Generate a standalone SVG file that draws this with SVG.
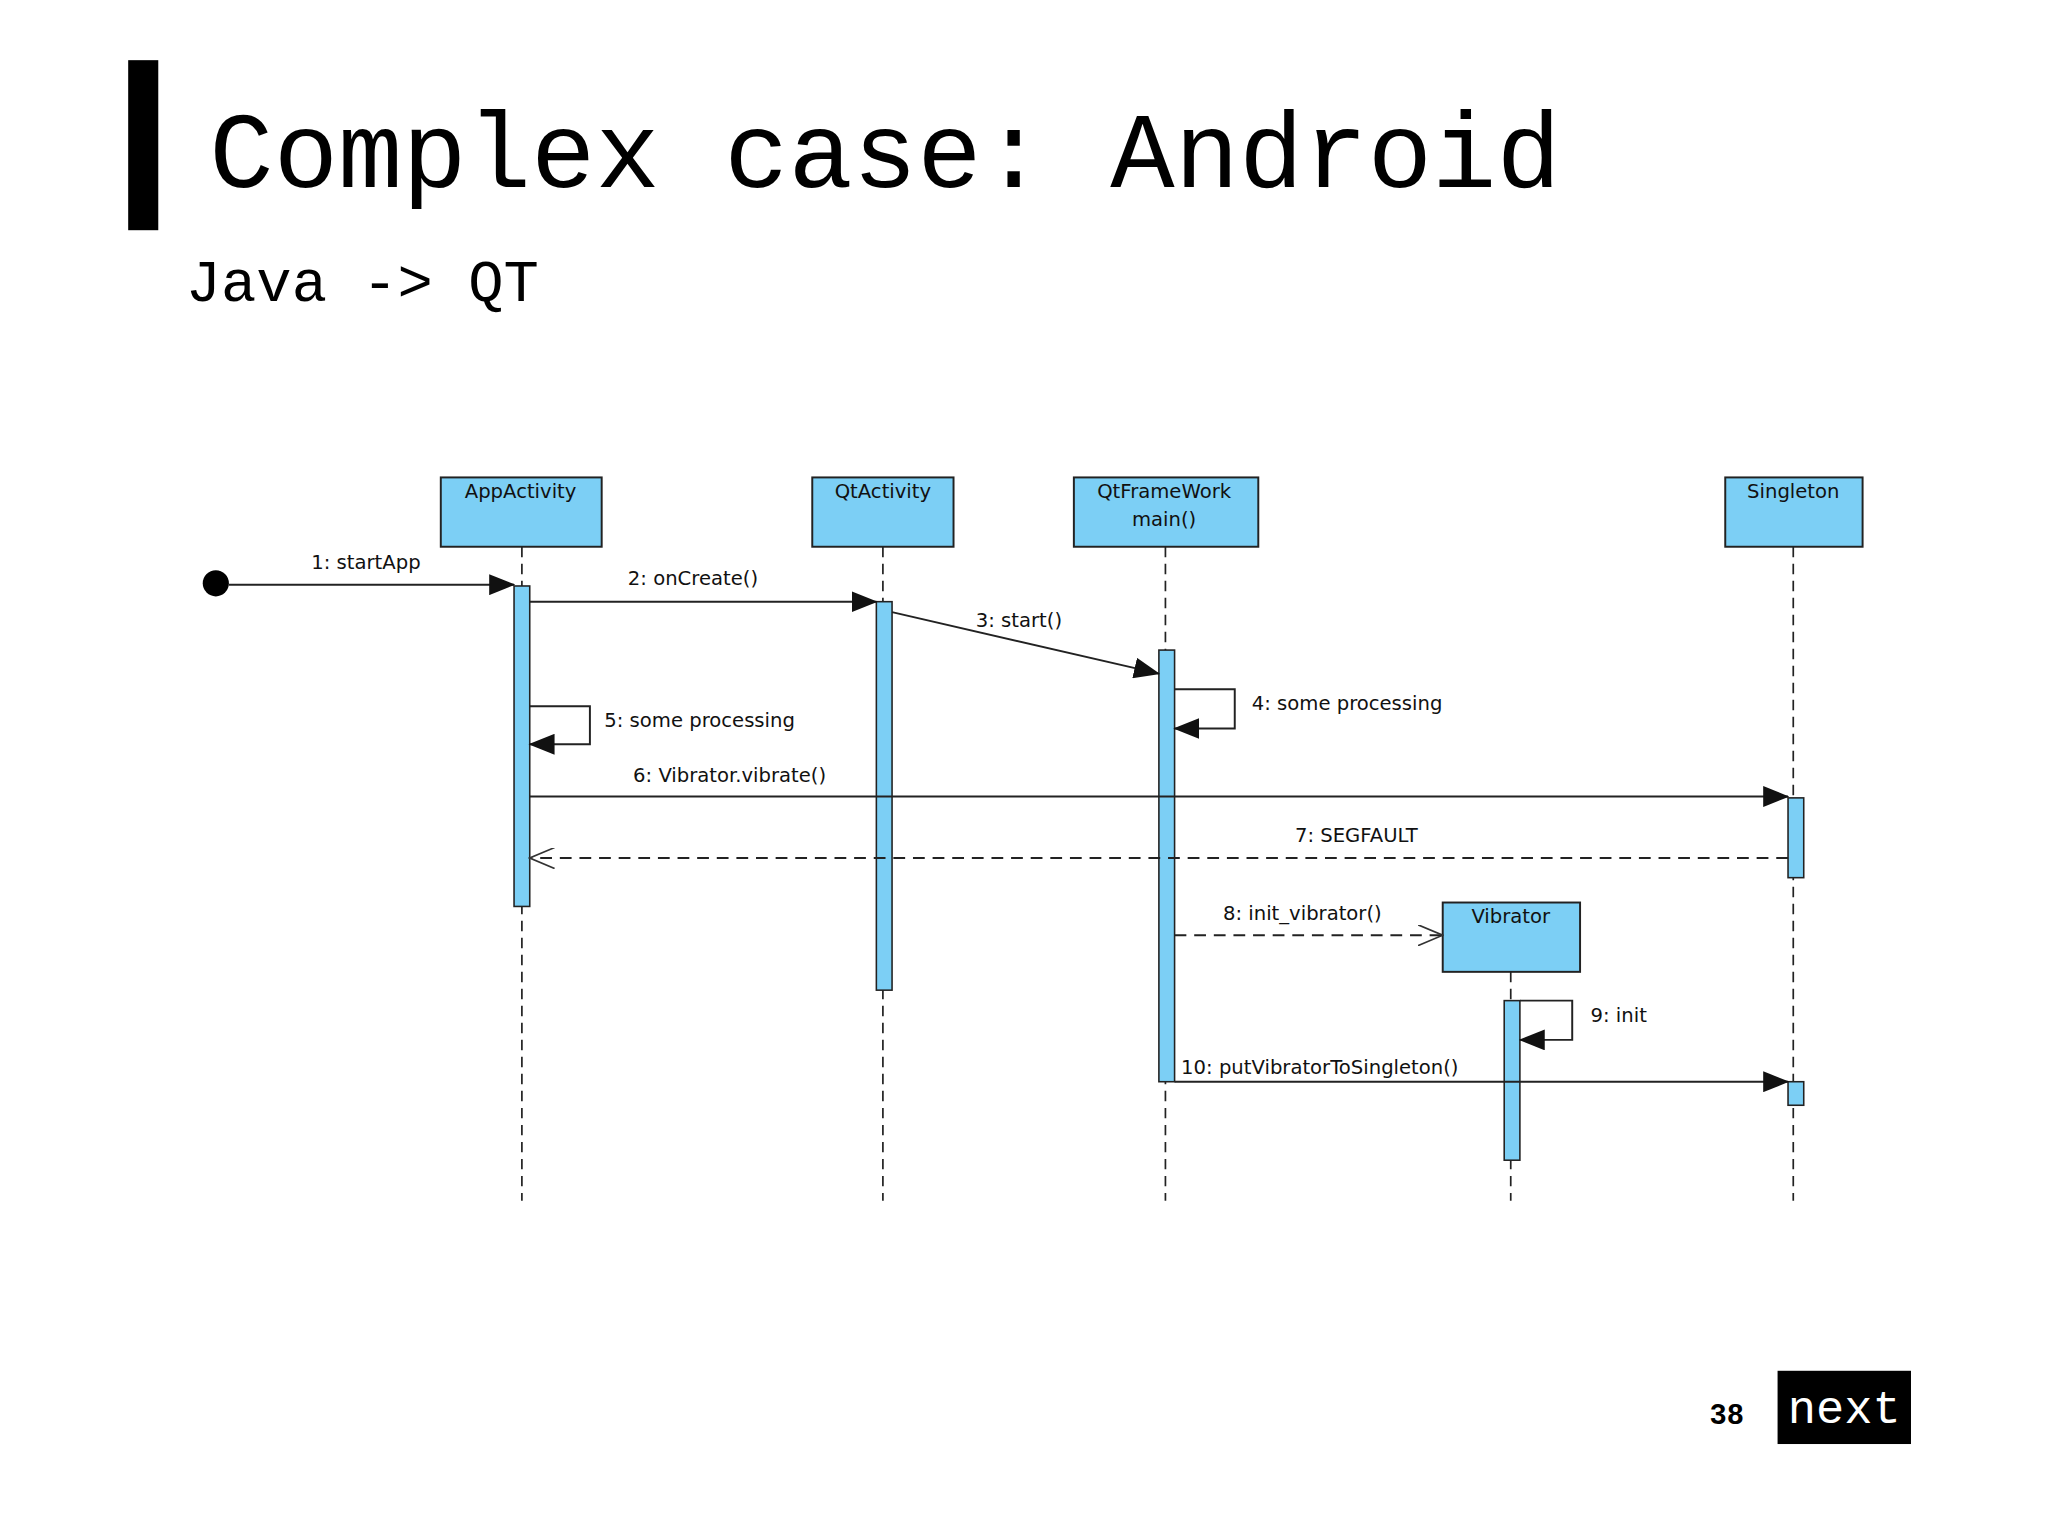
<svg xmlns="http://www.w3.org/2000/svg" width="2048" height="1536" viewBox="0 0 2048 1536">
<style>
.box{fill:#7ccff5;stroke:#222;stroke-width:1.5}
.act{fill:#7ccff5;stroke:#222;stroke-width:1.2}
.life{stroke:#222;stroke-width:1.3;stroke-dasharray:8,5;fill:none}
.msg{stroke:#222;stroke-width:1.5;fill:none}
.ret{stroke:#222;stroke-width:1.5;fill:none;stroke-dasharray:9,6}
.lbl{font-family:"DejaVu Sans",sans-serif;font-size:15px;fill:#111}
.nm{font-family:"DejaVu Sans",sans-serif;font-size:15px;fill:#111;text-anchor:middle}
</style>
<defs>
<marker id="fa" markerWidth="20" markerHeight="16" refX="19" refY="8" orient="auto" markerUnits="userSpaceOnUse"><path d="M0,0 L20,8 L0,16 Z" fill="#111"/></marker>
<marker id="oa" markerWidth="20" markerHeight="16" refX="19" refY="8" orient="auto" markerUnits="userSpaceOnUse"><path d="M0,0 L19,8 L0,16" fill="none" stroke="#333" stroke-width="1.3"/></marker>
</defs>
<rect width="2048" height="1536" fill="#fff"/>
<g transform="scale(1.308)">
<rect x="98" y="46" width="23" height="130" fill="#000"/>
<text x="160" y="143" font-family="Liberation Mono, monospace" font-size="82" fill="#000">Complex case: Android</text>
<text x="142" y="230" font-family="Liberation Mono, monospace" font-size="45" fill="#000">Java -&gt; QT</text>
<g id="lifelines">
<line class="life" x1="399" y1="418" x2="399" y2="918"/>
<line class="life" x1="675" y1="418" x2="675" y2="918"/>
<line class="life" x1="891" y1="418" x2="891" y2="918"/>
<line class="life" x1="1371" y1="418" x2="1371" y2="918"/>
<line class="life" x1="1155" y1="743" x2="1155" y2="918"/>
</g>
<g id="AppActivity"><rect class="box" x="337" y="365" width="123" height="53"/><text class="nm" x="398" y="381">AppActivity</text></g>
<g id="QtActivity"><rect class="box" x="621" y="365" width="108" height="53"/><text class="nm" x="675" y="381">QtActivity</text></g>
<g id="QtFrameWork"><rect class="box" x="821" y="365" width="141" height="53"/><text class="nm" x="890" y="381">QtFrameWork</text><text class="nm" x="890" y="402">main()</text></g>
<g id="Singleton"><rect class="box" x="1319" y="365" width="105" height="53"/><text class="nm" x="1371" y="381">Singleton</text></g>
<g id="Vibrator"><rect class="box" x="1103" y="690" width="105" height="53"/><text class="nm" x="1155" y="706">Vibrator</text></g>
<g id="activations">
<rect class="act" x="393" y="448" width="12" height="245"/>
<rect class="act" x="670" y="460" width="12" height="297"/>
<rect class="act" x="886" y="497" width="12" height="330"/>
<rect class="act" x="1367" y="610" width="12" height="61"/>
<rect class="act" x="1367" y="827" width="12" height="18"/>
<rect class="act" x="1150" y="765" width="12" height="122"/>
</g>
<g id="connectors">
<circle cx="165" cy="446" r="10" fill="#000"/>
<line class="msg" x1="175" y1="447" x2="393" y2="447" marker-end="url(#fa)"/>
<text class="lbl" x="238" y="435">1: startApp</text>
<line class="msg" x1="405" y1="460" x2="670" y2="460" marker-end="url(#fa)"/>
<text class="lbl" x="480" y="447">2: onCreate()</text>
<line class="msg" x1="682" y1="468" x2="886" y2="515" marker-end="url(#fa)"/>
<text class="lbl" x="746" y="479">3: start()</text>
<path class="msg" d="M898,527 H944 V557 H898" marker-end="url(#fa)"/>
<text class="lbl" x="957" y="543">4: some processing</text>
<path class="msg" d="M405,540 H451 V569 H405" marker-end="url(#fa)"/>
<text class="lbl" x="462" y="556">5: some processing</text>
<line class="msg" x1="405" y1="609" x2="1367" y2="609" marker-end="url(#fa)"/>
<text class="lbl" x="484" y="598">6: Vibrator.vibrate()</text>
<line class="ret" x1="1367" y1="656" x2="405" y2="656" marker-end="url(#oa)"/>
<text class="lbl" x="990" y="644">7: SEGFAULT</text>
<line class="ret" x1="898" y1="715" x2="1103" y2="715" marker-end="url(#oa)"/>
<text class="lbl" x="935" y="703">8: init_vibrator()</text>
<path class="msg" d="M1162,765 H1202 V795 H1162" marker-end="url(#fa)"/>
<text class="lbl" x="1216" y="781">9: init</text>
<line class="msg" x1="898" y1="827" x2="1367" y2="827" marker-end="url(#fa)"/>
<text class="lbl" x="903" y="821">10: putVibratorToSingleton()</text>
</g>
<text x="1307" y="1089" font-family="Liberation Mono, monospace" font-size="22" font-weight="bold" fill="#000">38</text>
<rect x="1359" y="1048" width="102" height="56" fill="#000"/>
<text x="1410" y="1088" text-anchor="middle" font-family="Liberation Mono, monospace" font-size="36" fill="#fff">next</text>
</g>
</svg>
